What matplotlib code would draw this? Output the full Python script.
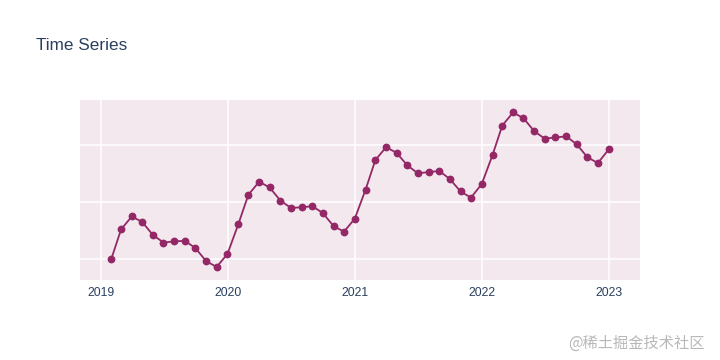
import matplotlib
matplotlib.use("Agg")
import matplotlib.pyplot as plt
import pandas as pd

# monthly values (month ends)
dates = pd.date_range("2019-01-31", periods=48, freq="ME")
values = [
    0.00, 0.52, 0.75, 0.65, 0.42, 0.29, 0.31, 0.32, 0.19, -0.04, -0.14, 0.09,
    0.61, 1.13, 1.36, 1.26, 1.03, 0.90, 0.91, 0.93, 0.81, 0.58, 0.48, 0.71,
    1.22, 1.74, 1.97, 1.87, 1.65, 1.51, 1.53, 1.55, 1.41, 1.19, 1.08, 1.32,
    1.83, 2.35, 2.58, 2.48, 2.25, 2.12, 2.14, 2.16, 2.02, 1.79, 1.69, 1.93,
]
year_ticks = pd.to_datetime(["2019-01-01", "2020-01-01", "2021-01-01",
                             "2022-01-01", "2023-01-01"])
year_labels = ["2019", "2020", "2021", "2022", "2023"]
title = "Time Series"
watermark = "@稀土掘金技术社区"

text_color = "#2a3f5f"
plt.rcParams["font.family"] = ["Liberation Sans", "DejaVu Sans"]

fig = plt.figure(figsize=(7.2, 3.6), dpi=100)
ax = fig.add_axes([80 / 720, 1 - 280 / 360, 560 / 720, 180 / 360])
ax.set_facecolor("#f2e8ee")

ax.plot(dates, values, color="#942866", linewidth=1.3,
        marker="o", markersize=4.6, zorder=3)

ax.set_xlim(pd.Timestamp("2018-11-02"), pd.Timestamp("2023-03-31"))
ax.set_ylim(-0.37, 2.80)

ax.set_xticks(year_ticks)
ax.set_xticklabels(year_labels)
ax.set_yticks([0, 1, 2])
ax.tick_params(axis="y", length=0, labelleft=False)
ax.tick_params(axis="x", length=0, pad=5, labelsize=8.8, labelcolor=text_color)

ax.grid(True, color="white", linewidth=1.1)
ax.set_axisbelow(True)
for s in ax.spines.values():
    s.set_visible(False)

fig.text(36 / 720, 1 - 45 / 360, title, fontsize=12.3, color=text_color,
         va="center", ha="left")

fig.text(705 / 720, 1 - 343 / 360, watermark, fontsize=11, color="#b8b8b8",
         va="center", ha="right", family=["Noto Sans CJK SC", "DejaVu Sans"])

fig.savefig("out.png", dpi=100)
